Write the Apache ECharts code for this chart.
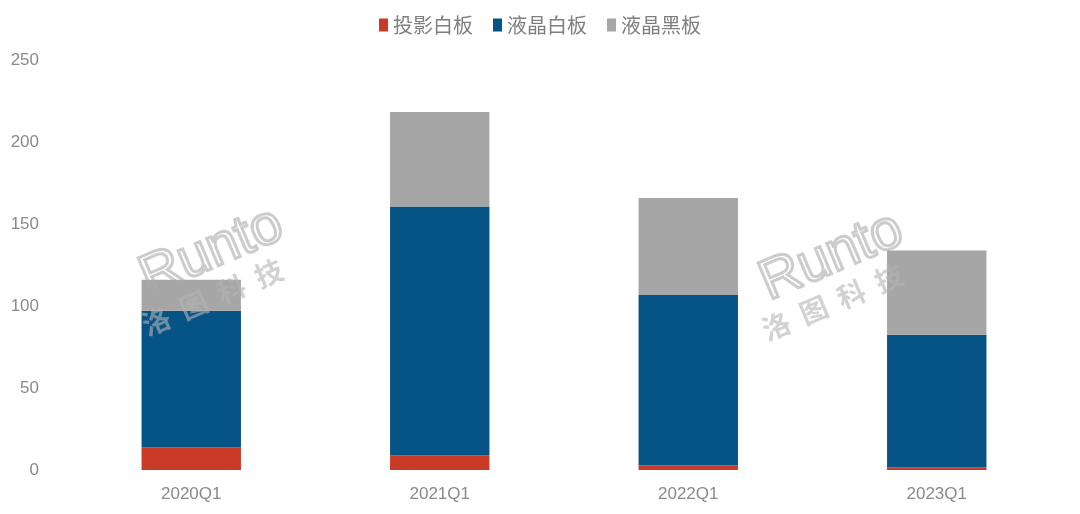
<!DOCTYPE html>
<html><head><meta charset="utf-8">
<script src="https://cdn.jsdelivr.net/npm/echarts@6/dist/echarts.min.js"></script>
<style>html,body{margin:0;padding:0;background:#fff}#c{width:1080px;height:514px}</style>
</head><body><div id="c"></div>
<script>
const categories = ['2020Q1', '2021Q1', '2022Q1', '2023Q1'];
const seriesNames = ['投影白板', '液晶白板', '液晶黑板'];
const projWhite = [13.8, 8.9, 2.8, 1.6];
const lcdWhite = [83.3, 151.8, 103.9, 80.9];
const lcdBlack = [18.9, 57.6, 59.1, 51.4];
const yTicks = [0, 50, 100, 150, 200, 250];
const colors = ['#CA3A29', '#065485', '#A6A6A6'];
const font = '"Noto Sans CJK SC", "Liberation Sans", sans-serif';

const chart = echarts.init(document.getElementById('c'));
function wm(x, y) {
  return [
    { type: 'text', left: x, top: y, rotation: 0.40, z: 100,
      style: { text: 'Runto', fontSize: 56, fontFamily: '"Liberation Sans", sans-serif',
               fill: 'rgba(255,255,255,0)', stroke: 'rgba(170,170,170,0.6)', lineWidth: 3 } },
    { type: 'text', left: x + 8, top: y + 60, rotation: 0.40, z: 100,
      style: { text: '洛  图  科  技', fontSize: 28, fontWeight: 'bold', fontFamily: '"Noto Sans CJK SC", sans-serif',
               fill: 'rgba(180,180,180,0.6)' } }
  ];
}
chart.setOption({
  animation: false,
  color: colors,
  textStyle: { fontFamily: font },
  legend: {
    top: 10, left: 'center',
    itemWidth: 9, itemHeight: 13, itemGap: 20,
    icon: 'rect',
    textStyle: { fontSize: 20, color: '#7f7f7f', fontFamily: font }
  },
  grid: { left: 67, right: 19, top: 60, bottom: 44 },
  xAxis: {
    type: 'category', data: categories,
    axisLine: { show: false }, axisTick: { show: false },
    axisLabel: { fontSize: 17, color: '#8a8a8a', margin: 16, fontFamily: '"Liberation Sans", sans-serif' }
  },
  yAxis: {
    type: 'value', min: yTicks[0], max: yTicks[yTicks.length - 1], interval: yTicks[1] - yTicks[0],
    splitLine: { show: false }, axisLine: { show: false }, axisTick: { show: false },
    axisLabel: { fontSize: 17, color: '#8a8a8a', margin: 28, fontFamily: '"Liberation Sans", sans-serif' }
  },
  series: [projWhite, lcdWhite, lcdBlack].map((d, i) => ({
    name: seriesNames[i], type: 'bar', stack: 'total', data: d, barWidth: '40%'
  })),
  graphic: [].concat(wm(130, 195), wm(750, 200))
});
</script></body></html>
